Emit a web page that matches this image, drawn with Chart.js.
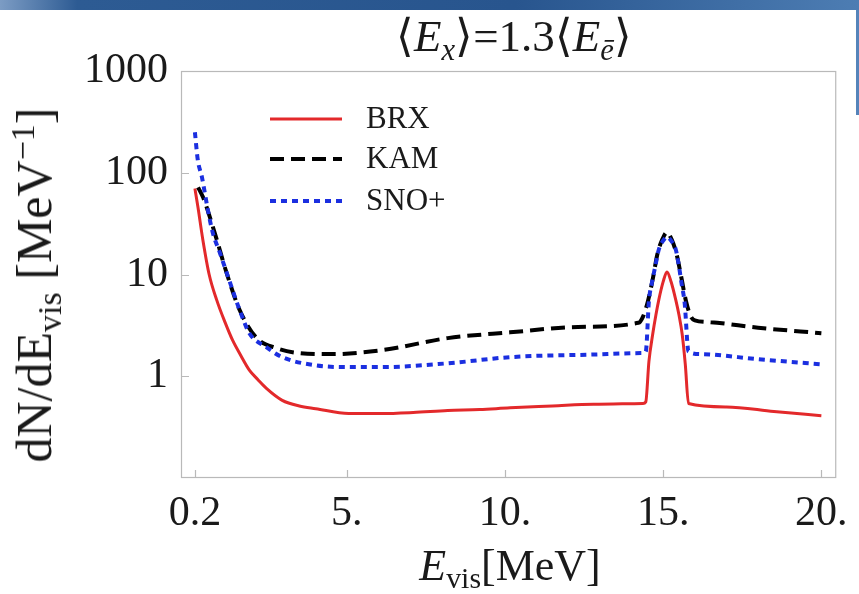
<!DOCTYPE html>
<html>
<head>
<meta charset="utf-8">
<script src="https://cdn.jsdelivr.net/npm/chart.js@4.4.1/dist/chart.umd.min.js"></script>
<style>
  html, body { margin: 0; padding: 0; background: #fff; }
  #page { position: relative; width: 859px; height: 594px; overflow: hidden; background: #fff;
          font-family: "Liberation Serif", "Times New Roman", serif; color: #1a1a1a; }
  #topBar { position: absolute; left: 0; top: 0; width: 859px; height: 10px;
            background: linear-gradient(to right, #7c9cc4 0%, #2d5b93 9%, #28558e 60%, #4d7db3 100%); }
  #sideBar { position: absolute; left: 856px; top: 10px; width: 3px; height: 105px; background: #5584ba; }
  canvas { position: absolute; left: 0; top: 0; }
  .lbl { position: absolute; white-space: nowrap; line-height: 1; transform: translate(-50%, -50%); }
  .sub { font-size: 0.68em; position: relative; top: 0.28em; }
  .sup { font-size: 0.68em; position: relative; top: -0.5em; }
</style>
</head>
<body>
<div id="page">
  <div id="topBar"></div>
  <div id="sideBar"></div>
  <canvas id="spectrumChart" width="859" height="594"></canvas>
  <div class="lbl" style="left:514px; top:36px; font-size:45px;">⟨<i>E</i><span class="sub"><i>x</i></span>⟩=1.3⟨<i>E</i><span class="sub"><i>ē</i></span>⟩</div>
  <div class="lbl" style="left:510px; top:566px; font-size:44px;"><i>E</i><span class="sub">vis</span>[MeV]</div>
  <div class="lbl" style="left:34px; top:285px; font-size:50px; transform: translate(-50%, -50%) rotate(-90deg);">dN/dE<span class="sub">vis</span> [MeV<span class="sup">−1</span>]</div>
</div>
<script>
// visible energy (MeV) and event spectrum dN/dE (1/MeV)
const brxE = [0.2, 0.3, 0.45, 0.65, 0.89, 1.15, 1.39, 1.65, 1.92, 2.2, 2.46, 2.96, 3.5, 4.02, 5.06, 6.09, 7.1, 8.19, 9.2, 10.16, 11.5, 12.8, 14.36,
              14.45, 14.55, 14.67, 14.77, 14.86, 15.0, 15.12, 15.25, 15.4, 15.5, 15.6, 15.7, 15.8, 17, 18.5, 20];
const brxN = [70, 45, 22, 10, 5.6, 3.4, 2.26, 1.6, 1.15, 0.92, 0.76, 0.58, 0.51, 0.48, 0.43, 0.43, 0.44, 0.46, 0.47, 0.49, 0.51, 0.53, 0.54,
              0.56, 1.4, 2.6, 4, 5.6, 8.5, 10.6, 8.5, 5.6, 4, 2.6, 1.3, 0.54, 0.5, 0.45, 0.41];

const kamE = [0.3, 0.45, 0.58, 0.89, 1.2, 1.61, 2.14, 2.77, 3.49, 4.52, 6.09, 8.19, 10.16, 12.3, 14.22,
              14.37, 14.52, 14.67, 14.82, 14.97, 15.12, 15.27, 15.42, 15.57, 15.72, 15.87, 16.0, 16.5, 18, 20];
const kamN = [72, 58, 45, 22, 10.4, 4.5, 2.4, 1.89, 1.69, 1.65, 1.8, 2.37, 2.7, 3.05, 3.35,
              3.9, 5.5, 9, 16, 22, 26, 22, 16, 9.5, 5.5, 3.9, 3.55, 3.4, 3.0, 2.65];

const snoE = [0.2, 0.29, 0.42, 0.61, 0.76, 1.0, 1.3, 1.61, 1.92, 2.46, 2.96, 4.02, 5.06, 6.09, 8.19, 10.16, 12.3, 14.3,
              14.45, 14.55, 14.64, 14.75, 14.86, 15.0, 15.12, 15.25, 15.4, 15.5, 15.58, 15.68, 15.8, 16.2, 18, 20];
const snoN = [250, 134, 91, 43, 26, 16, 8.5, 4.5, 2.65, 1.93, 1.54, 1.28, 1.23, 1.23, 1.34, 1.54, 1.62, 1.69,
              1.75, 5.5, 8.2, 12, 17.5, 21.5, 23.4, 21.5, 17.5, 12, 8.2, 5.2, 1.75, 1.65, 1.47, 1.31];

const seriesNames = ['BRX', 'KAM', 'SNO+'];
const xTicks = [0.2, 5, 10, 15, 20];
const xTickLabels = ['0.2', '5.', '10.', '15.', '20.'];
const yTicks = [1, 10, 100, 1000];
const yTickLabels = ['1', '10', '100', '1000'];

const serif = '"Liberation Serif", "Times New Roman", serif';

function toPoints(xs, ys) {
    return xs.map((x, i) => ({ x: x, y: ys[i] }));
}

// Mathematica-style frame with inward ticks
const frameTicks = {
    id: 'frameTicks',
    beforeDatasetsDraw(chart) {
        const ctx = chart.ctx;
        const a = chart.chartArea;
        const x = chart.scales.x, y = chart.scales.y;
        ctx.save();
        ctx.strokeStyle = '#b9b9b9';
        ctx.lineWidth = 1.2;
        ctx.strokeRect(a.left + 0.5, a.top + 0.5, a.right - a.left - 1, a.bottom - a.top - 1);
        ctx.beginPath();
        xTicks.forEach(v => {
            const px = Math.round(x.getPixelForValue(v)) + 0.5;
            ctx.moveTo(px, a.bottom);
            ctx.lineTo(px, a.bottom - 8);
        });
        yTicks.forEach(v => {
            const py = Math.round(y.getPixelForValue(v)) + 0.5;
            ctx.moveTo(a.left, py);
            ctx.lineTo(a.left + 8, py);
        });
        ctx.stroke();
        ctx.restore();
    }
};

// legend drawn inside the plot, top left
const insideLegend = {
    id: 'insideLegend',
    afterDraw(chart) {
        const ctx = chart.ctx;
        const rows = [119, 159, 201];
        ctx.save();
        chart.data.datasets.forEach((ds, i) => {
            const yy = rows[i];
            ctx.strokeStyle = ds.borderColor;
            ctx.lineWidth = ds.borderWidth;
            ctx.setLineDash(ds.borderDash || []);
            ctx.beginPath();
            ctx.moveTo(270, yy);
            ctx.lineTo(342, yy);
            ctx.stroke();
            ctx.setLineDash([]);
            ctx.fillStyle = '#1a1a1a';
            ctx.font = '31px ' + serif;
            ctx.textBaseline = 'middle';
            ctx.textAlign = 'left';
            ctx.fillText(ds.label, 366, yy + 1);
        });
        ctx.restore();
    }
};

const ctx = document.getElementById('spectrumChart').getContext('2d');
const spectrumChart = new Chart(ctx, {
    type: 'line',
    data: {
        datasets: [{
            label: seriesNames[0],
            data: toPoints(brxE, brxN),
            borderColor: '#e3292b',
            borderWidth: 3,
            order: 2
        }, {
            label: seriesNames[1],
            data: toPoints(kamE, kamN),
            borderColor: '#000000',
            borderWidth: 4,
            borderDash: [14, 7],
            order: 1
        }, {
            label: seriesNames[2],
            data: toPoints(snoE, snoN),
            borderColor: '#1b2fe0',
            borderWidth: 4,
            borderDash: [6, 5],
            order: 0
        }]
    },
    options: {
        responsive: false,
        animation: false,
        devicePixelRatio: 1,
        layout: { padding: { top: 71, right: 17, bottom: 0, left: 0 } },
        elements: {
            point: { radius: 0 },
            line: { cubicInterpolationMode: 'monotone', fill: false, borderJoinStyle: 'round' }
        },
        plugins: {
            legend: { display: false },
            tooltip: { enabled: false }
        },
        scales: {
            x: {
                type: 'linear',
                min: -0.24,
                max: 20.47,
                afterBuildTicks: scale => { scale.ticks = xTicks.map(v => ({ value: v })); },
                afterFit: scale => { scale.height = 116; },
                ticks: {
                    font: { family: serif, size: 42 },
                    color: '#1a1a1a',
                    padding: 11,
                    maxRotation: 0,
                    autoSkip: false,
                    callback: (v, i) => xTickLabels[i]
                },
                grid: { display: false, drawTicks: false },
                border: { display: false }
            },
            y: {
                type: 'logarithmic',
                min: 0.1,
                max: 1000,
                afterBuildTicks: scale => { scale.ticks = yTicks.map(v => ({ value: v })); },
                afterFit: scale => { scale.width = 181; },
                ticks: {
                    font: { family: serif, size: 42 },
                    color: '#1a1a1a',
                    padding: 13,
                    autoSkip: false,
                    callback: (v, i) => yTickLabels[i]
                },
                grid: { display: false, drawTicks: false },
                border: { display: false }
            }
        }
    },
    plugins: [frameTicks, insideLegend]
});
</script>
</body>
</html>
